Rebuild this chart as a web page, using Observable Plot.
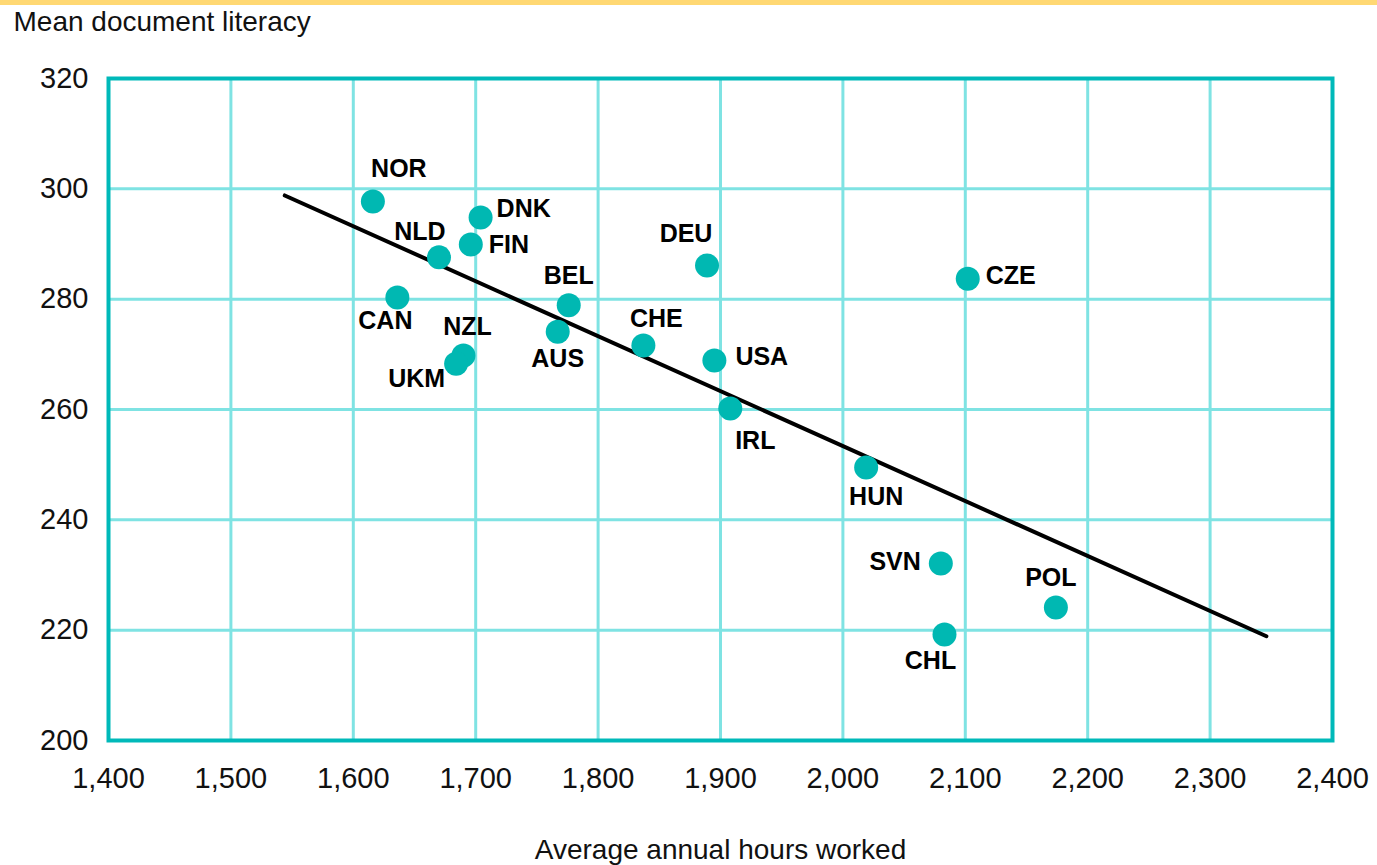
<!DOCTYPE html>
<html>
<head>
<meta charset="utf-8">
<script src="https://cdn.jsdelivr.net/npm/d3@7"></script>
<script src="https://cdn.jsdelivr.net/npm/@observablehq/plot@0.6"></script>
<style>
  html, body { margin: 0; padding: 0; background: #fff; }
  #bar { height: 5px; background: #ffd873; }
  svg { display: block; }
</style>
</head>
<body>
<div id="bar"></div>
<div id="chart"></div>
<script>
const countries = ["NOR","DNK","NLD","FIN","CAN","DEU","CZE","BEL","AUS","NZL","UKM","CHE","USA","IRL","HUN","SVN","POL","CHL"];
const hours =     [1616, 1704, 1670, 1696, 1636, 1889, 2102, 1776, 1767, 1690, 1684, 1837, 1895, 1908, 2019, 2080, 2174, 2083];
const literacy =  [297.7, 294.8, 287.6, 289.9, 280.3, 286.1, 283.7, 278.9, 274.1, 269.8, 268.3, 271.6, 268.9, 260.2, 249.5, 232.1, 224.1, 219.2];
const trendHours = [1544, 2346];
const trendLiteracy = [298.8, 218.9];
const xTicks = [1400, 1500, 1600, 1700, 1800, 1900, 2000, 2100, 2200, 2300, 2400];
const yTicks = [200, 220, 240, 260, 280, 300, 320];

const data = countries.map((c, i) => ({country: c, hours: hours[i], literacy: literacy[i]}));
const trend = trendHours.map((h, i) => ({hours: h, literacy: trendLiteracy[i]}));

// label placement (layout only): [dx, dy, textAnchor]
const place = {
  NOR: [26, -33, "middle"], DNK: [16, -9, "start"], NLD: [-19, -25, "middle"],
  FIN: [18, 0, "start"], CAN: [-12, 23, "middle"], DEU: [-21, -32, "middle"],
  CZE: [18, -3, "start"], BEL: [0, -29, "middle"], AUS: [0, 27, "middle"],
  NZL: [4, -28, "middle"], UKM: [-11, 15, "end"], CHE: [13, -27, "middle"],
  USA: [21, -3, "start"], IRL: [25, 33, "middle"], HUN: [10, 30, "middle"],
  SVN: [-20, -1, "end"], POL: [-5, -30, "middle"], CHL: [-14, 26, "middle"]
};

const font = "'Liberation Sans', Arial, sans-serif";

const labelMarks = countries.map(c => {
  const [dx, dy, anchor] = place[c];
  return Plot.text(data.filter(d => d.country === c), {
    x: "hours", y: "literacy", text: "country", dx, dy, textAnchor: anchor,
    fontWeight: "bold", fontSize: 25, fill: "#000",
    style: "letter-spacing:1.5px"
  });
});

const chart = Plot.plot({
  width: 1377,
  height: 860,
  marginLeft: 108,
  marginRight: 45,
  marginTop: 73,
  marginBottom: 125,
  style: {fontFamily: font, fontSize: "29px", color: "#111", background: "#fff"},
  x: {domain: [1400, 2400], ticks: xTicks},
  y: {domain: [200, 320], ticks: yTicks},
  marks: [
    Plot.gridX(xTicks, {stroke: "#7fe3e3", strokeOpacity: 1, strokeWidth: 3}),
    Plot.gridY(yTicks, {stroke: "#7fe3e3", strokeOpacity: 1, strokeWidth: 3}),
    Plot.frame({stroke: "#00b9b9", strokeWidth: 4}),
    Plot.axisX(xTicks, {tickSize: 0, tickPadding: 27, tickFormat: d3.format(","), label: null, fontSize: 29}),
    Plot.axisY(yTicks, {tickSize: 0, tickPadding: 20, label: null, fontSize: 29}),
    Plot.line(trend, {x: "hours", y: "literacy", stroke: "#000", strokeWidth: 4}),
    Plot.dot(data, {x: "hours", y: "literacy", r: 12, fill: "#00b8b2", stroke: "none"}),
    ...labelMarks,
    Plot.text(["Mean document literacy"], {frameAnchor: "top-left", dx: -95, dy: -67, textAnchor: "start", fontSize: 28}),
    Plot.text(["Average annual hours worked"], {frameAnchor: "bottom", dy: 118, fontSize: 28})
  ]
});
document.getElementById("chart").appendChild(chart);
</script>
</body>
</html>
